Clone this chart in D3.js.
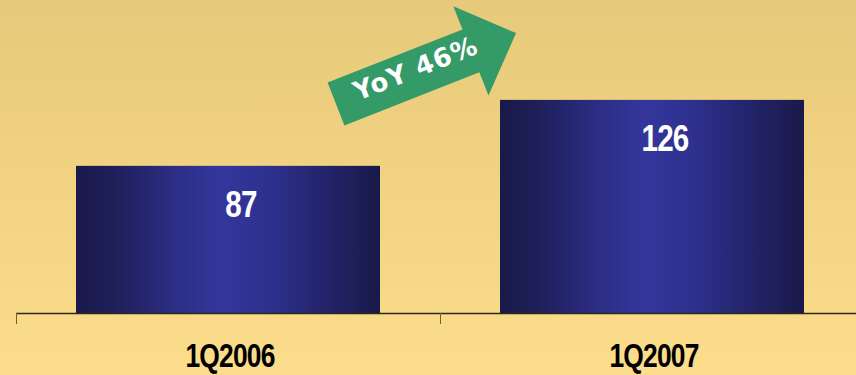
<!DOCTYPE html>
<html>
<head>
<meta charset="utf-8">
<script src="https://cdn.jsdelivr.net/npm/d3@7"></script>
<style>
  html, body { margin: 0; padding: 0; overflow: hidden; }
  svg { display: block; }
</style>
</head>
<body>
<script>
// Quarterly totals, first quarter of each year
const categories = ["1Q2006", "1Q2007"];
const values = [87, 126];
const growthLabel = "YoY 46%";

const W = 856, H = 375;
const svg = d3.select("body").append("svg").attr("width", W).attr("height", H);
const defs = svg.append("defs");

// Warm yellow page background
const bg = defs.append("linearGradient").attr("id", "bg").attr("x1", 0).attr("y1", 0).attr("x2", 0).attr("y2", 1);
bg.append("stop").attr("offset", 0).attr("stop-color", "#e7c97b");
bg.append("stop").attr("offset", 0.5).attr("stop-color", "#f1d382");
bg.append("stop").attr("offset", 1).attr("stop-color", "#fbdd8b");
svg.append("rect").attr("width", W).attr("height", H).attr("fill", "url(#bg)");

// Cylindrical navy shading across each bar
const barGrad = defs.append("linearGradient").attr("id", "barGrad").attr("x1", 0).attr("y1", 0).attr("x2", 1).attr("y2", 0);
[[0, "#19194a"], [0.12, "#1e1f58"], [0.3, "#2b2c80"], [0.47, "#34369c"], [0.62, "#2f3190"], [0.82, "#23246a"], [1, "#19194a"]]
  .forEach(([o, c]) => barGrad.append("stop").attr("offset", o).attr("stop-color", c));

const baseY = 313;
const x = d3.scaleBand().domain(categories).range([16, 864]).paddingInner(0.283).paddingOuter(0.1415);
const y = d3.scaleLinear().domain([0, 175]).range([baseY, 17]);

// Bars
svg.selectAll("rect.bar").data(categories).join("rect")
  .attr("class", "bar")
  .attr("x", d => x(d))
  .attr("y", (d, i) => y(values[i]))
  .attr("width", x.bandwidth())
  .attr("height", (d, i) => y(0) - y(values[i]))
  .attr("fill", "url(#barGrad)");

// Value labels inside the bars
svg.selectAll("text.val").data(categories).join("text")
  .attr("class", "val")
  .attr("transform", (d, i) => `translate(${x(d) + x.bandwidth() / 2 + 13},${y(values[i]) + 51}) scale(0.8,1)`)
  .attr("text-anchor", "middle")
  .attr("font-family", "'Liberation Sans', Arial, sans-serif")
  .attr("font-weight", "bold")
  .attr("font-size", 37)
  .attr("letter-spacing", -1)
  .attr("fill", "#ffffff")
  .text((d, i) => values[i]);

// Category axis: baseline with dividers between the bands
const gap = (x.step() - x.bandwidth()) / 2;
const bounds = categories.map(d => x(d) - gap).concat([x(categories[categories.length - 1]) + x.bandwidth() + gap]);
const axis = svg.append("g");
axis.append("line")
  .attr("x1", bounds[0]).attr("x2", W)
  .attr("y1", baseY + 0.5).attr("y2", baseY + 0.5)
  .attr("stroke", "#2e2818").attr("stroke-width", 1.5);
axis.selectAll("line.tick").data(bounds).join("line")
  .attr("class", "tick")
  .attr("x1", d => d + 0.5).attr("x2", d => d + 0.5)
  .attr("y1", baseY).attr("y2", baseY + 11)
  .attr("stroke", "#6e6036").attr("stroke-width", 1);

axis.selectAll("text.cat").data(categories).join("text")
  .attr("class", "cat")
  .attr("transform", d => `translate(${x(d) + x.bandwidth() / 2 + 2},${367}) scale(0.8,1)`)
  .attr("text-anchor", "middle")
  .attr("font-family", "'Liberation Sans', Arial, sans-serif")
  .attr("font-weight", "bold")
  .attr("font-size", 33)
  .attr("letter-spacing", -1)
  .attr("fill", "#000000")
  .text(d => d);

// Growth arrow between the two bars
const arrow = svg.append("g").attr("transform", "translate(336,104) rotate(-21.5)");
const shaftHalf = 23, headHalf = 48, headStart = 145, tip = 193.5;
const arrowPts = [[0, -shaftHalf], [headStart, -shaftHalf], [headStart, -headHalf], [tip, 0],
                  [headStart, headHalf], [headStart, shaftHalf], [0, shaftHalf]];
arrow.append("path")
  .attr("d", d3.line()(arrowPts) + "Z")
  .attr("fill", "#349a68");
arrow.append("text")
  .attr("x", 87).attr("y", 5)
  .attr("text-anchor", "middle")
  .attr("font-family", "'DejaVu Sans', Verdana, sans-serif")
  .attr("font-weight", "bold")
  .attr("font-size", 26)
  .attr("letter-spacing", 1)
  .attr("fill", "#ffffff")
  .text(growthLabel);
</script>
</body>
</html>
